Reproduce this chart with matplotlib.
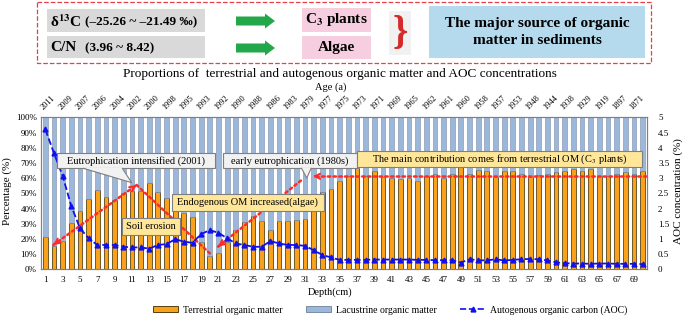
import numpy as np
import matplotlib
matplotlib.use("Agg")
import matplotlib.pyplot as plt
from matplotlib.patches import Rectangle, Polygon, FancyArrow, Patch
from matplotlib.lines import Line2D

plt.rcParams['font.family'] = ['Liberation Serif', 'DejaVu Serif']
plt.rcParams['mathtext.fontset'] = 'stix'

# depth (cm) 1..70
depth = np.arange(1, 71)

# terrestrial OM proportion (%)
terrestrial = [21.5, 15.3, 18.6, 30.7, 38.4, 46.0, 52.2, 47.8, 45.6, 50.0,
               51.5, 51.7, 56.6, 50.6, 47.0, 41.0, 36.8, 34.6, 18.0, 8.5,
               11.0, 18.0, 26.0, 31.0, 35.0, 32.0, 25.8, 31.8, 31.8, 32.3,
               33.0, 42.0, 51.0, 52.8, 58.3, 61.6, 66.4, 61.6, 64.7, 61.0,
               59.9, 59.7, 60.0, 58.0, 61.6, 62.7, 59.9, 63.0, 67.0, 62.7,
               65.3, 64.7, 61.0, 64.7, 65.0, 62.7, 61.0, 61.8, 62.5, 63.8,
               64.7, 65.8, 65.0, 65.8, 61.6, 61.2, 62.7, 64.0, 62.5, 64.7]
lacustrine = [100 - v for v in terrestrial]

# autogenous organic carbon (%)
aoc = [4.60, 3.82, 3.07, 2.08, 1.35, 1.02, 0.80, 0.80, 0.80, 0.74,
       0.72, 0.72, 0.68, 0.80, 0.83, 0.99, 0.91, 0.87, 1.16, 1.29,
       1.20, 1.02, 0.85, 0.80, 0.74, 0.74, 0.93, 0.85, 0.80, 0.80,
       0.77, 0.63, 0.47, 0.39, 0.31, 0.31, 0.31, 0.31, 0.32, 0.32,
       0.32, 0.32, 0.32, 0.31, 0.31, 0.30, 0.30, 0.30, 0.22, 0.33,
       0.30, 0.29, 0.33, 0.29, 0.31, 0.33, 0.34, 0.33, 0.29, 0.23,
       0.20, 0.19, 0.19, 0.18, 0.19, 0.19, 0.18, 0.18, 0.18, 0.17]

odd_depths = list(range(1, 70, 2))
ages = ['2011', '2009', '2007', '2006', '2004', '2002', '2000', '1998', '1995', '1993',
        '1992', '1990', '1988', '1986', '1983', '1979', '1977', '1975', '1973', '1971',
        '1969', '1965', '1962', '1961', '1960', '1958', '1957', '1953', '1948', '1944',
        '1938', '1929', '1919', '1897', '1871']

ORANGE = '#f9a11b'
BLUE = '#9bb7d9'
RED = '#ff2a2a'
W, H = 685, 318

fig = plt.figure(figsize=(6.85, 3.18), dpi=100)

# ---------- header panel (pixel coordinates) ----------
hdr = fig.add_axes([0, 0, 1, 1])
hdr.set_xlim(0, W)
hdr.set_ylim(H, 0)
hdr.set_axis_off()

def pbox(x0, y0, x1, y1, fc, **kw):
    hdr.add_patch(Rectangle((x0, y0), x1 - x0, y1 - y0, fc=fc, ec='none', **kw))

hdr.add_patch(Rectangle((37, 2), 614, 61, fill=False, ec='#e8404a', ls='--', lw=0.9))
pbox(47, 9, 205, 32, '#d9d9d9')
pbox(47, 36, 205, 58, '#d9d9d9')
hdr.text(50, 21.5, r'δ$^{\mathbf{13}}$C', fontsize=11, weight='bold', va='center')
hdr.text(85, 22, '(–25.26 ~ –21.49 ‰)', fontsize=9.5, weight='bold', va='center')
hdr.text(50, 47.5, 'C/N', fontsize=11, weight='bold', va='center')
hdr.text(85, 48, '(3.96 ~ 8.42)', fontsize=9.5, weight='bold', va='center')
for yy in (21, 48):
    hdr.add_patch(FancyArrow(236, yy, 39, 0, width=9, head_width=15, head_length=10,
                             length_includes_head=True, color='#22a84a', lw=0))
pbox(302, 8, 371, 32, '#f7cde0')
pbox(302, 36, 371, 59, '#f7cde0')
hdr.text(336.5, 20, r'C$_\mathbf{3}$ plants', fontsize=11, weight='bold', ha='center', va='center')
hdr.text(336.5, 47.5, 'Algae', fontsize=11, weight='bold', ha='center', va='center')
pbox(389, 11, 411, 55, '#f1f1f1')
hdr.text(400, 33, '}', fontsize=28, weight='bold', color='#d42a2a', ha='center', va='center')
pbox(429, 6, 645, 58, '#b5daee')
hdr.text(537, 32, 'The major source of organic\nmatter in sediments', fontsize=11,
         weight='bold', ha='center', va='center', linespacing=1.3)

fig.text(340 / W, 1 - 73.5 / H,
         'Proportions of  terrestrial and autogenous organic matter and AOC concentrations',
         ha='center', va='center', fontsize=9.5)

# ---------- main chart ----------
ax = fig.add_axes([41 / W, 1 - 269.3 / H, 606 / W, 152 / H])
ax.bar(depth, terrestrial, width=0.55, color=ORANGE, edgecolor='#3a2a00', linewidth=0.5, zorder=2)
ax.bar(depth, lacustrine, bottom=terrestrial, width=0.55, color=BLUE,
       edgecolor='#7d8ea8', linewidth=0.4, zorder=2)
ax.set_xlim(0.5, 70.5)
ax.set_ylim(0, 100)
ax.set_yticks(range(0, 101, 10))
ax.set_yticklabels(['%d%%' % v for v in range(0, 101, 10)])
ax.set_xticks(odd_depths)
ax.tick_params(axis='x', length=0, pad=5, labelsize=6.5)
ax.tick_params(axis='y', length=0, pad=3, labelsize=6.5)
for s in ax.spines.values():
    s.set_color('#808080')
    s.set_linewidth(0.8)

ax2 = ax.twinx()
ax2.plot(depth, aoc, color='#1010ee', ls='--', lw=1.3, marker='^', markersize=3.5, zorder=5)
ax2.set_ylim(0, 5)
ax2.set_yticks(np.arange(0, 5.01, 0.5))
ax2.set_yticklabels(['%g' % v for v in np.arange(0, 5.01, 0.5)])
ax2.tick_params(axis='y', length=0, pad=8, labelsize=6.5)
for s in ax2.spines.values():
    s.set_color('#808080')
    s.set_linewidth(0.8)

ax3 = ax.twiny()
ax3.set_xlim(ax.get_xlim())
ax3.set_xticks(odd_depths)
ax3.set_xticklabels(ages, rotation=45, ha='left', va='bottom', rotation_mode='anchor', fontsize=6)
ax3.tick_params(axis='x', length=0, pad=4)
for s in ax3.spines.values():
    s.set_visible(False)

# red dotted trend arrows (data coords of ax)
def dotted(p, q):
    ax.plot([p[0], q[0]], [p[1], q[1]], color=RED, lw=1.8, ls=(0, (1, 1.3)),
            dash_capstyle='round', zorder=4)

def head(tip, frm):
    d = np.array(frm) - np.array(tip)
    back = np.array(tip) + d * 0.07 / np.hypot(d[0] / 70, d[1] / 100) / 10
    ax.annotate('', xy=tip, xytext=tuple(back),
                arrowprops=dict(arrowstyle='->', color=RED, lw=1.5, shrinkA=0, shrinkB=0,
                                mutation_scale=9), zorder=4)

pA, pB = (1.92, 16.0), (11.54, 55.5)
pC = (20.0, 10.5)
pD, pE = (20.95, 14.9), (30.6, 58.7)
pF, pG = (70.4, 61.2), (31.9, 61.2)
dotted(pA, pB); head(pA, pB); head(pB, pA)
dotted(pB, pC)
dotted(pD, pE); head(pD, pE)
dotted(pF, pG); head(pG, pF)

# annotation boxes, drawn on top of everything
tr = ax.transData

def callout(x0, x1, y0, y1, text, fc, pointer=None):
    ax2.add_patch(Rectangle((x0, y0), x1 - x0, y1 - y0, transform=tr, fc=fc,
                            ec='#7f7f7f', lw=0.8, zorder=10))
    if pointer:
        a, b, tip = pointer
        ax2.add_patch(Polygon([(a, y0 + 0.3), (b, y0 + 0.3), tip], transform=tr, fc=fc,
                              ec='none', zorder=11))
        ax2.add_line(Line2D([a, tip[0], b], [y0, tip[1], y0], transform=tr,
                            color='#7f7f7f', lw=0.8, zorder=11))
    ax2.text((x0 + x1) / 2, (y0 + y1) / 2, text, transform=tr, ha='center', va='center',
             fontsize=7.5, zorder=12)

GRAYBOX = '#f2f2f2'
YELLOW = '#ffe699'
callout(2.35, 20.57, 66.4, 76.7, 'Eutrophication intensified (2001)', GRAYBOX,
        pointer=(5.4, 9.9, (10.97, 57.0)))
callout(21.5, 36.95, 66.4, 76.3, 'early eutrophication (1980s)', GRAYBOX,
        pointer=(30.6, 31.7, (31.2, 60.0)))
callout(37.05, 69.9, 67.3, 77.8, r'The main contribution comes from terrestrial OM (C$_3$ plants)', YELLOW)
callout(15.6, 33.2, 38.4, 49.5, 'Endogenous OM increased(algae)', YELLOW)
callout(9.86, 16.5, 22.6, 33.75, 'Soil erosion', YELLOW)

# axis titles
fig.text(331 / W, 1 - 87.5 / H, 'Age (a)', ha='center', va='center', fontsize=7.5)
fig.text(330 / W, 1 - 292.5 / H, 'Depth(cm)', ha='center', va='center', fontsize=7.5)
fig.text(7 / W, 1 - 191 / H, 'Percentage (%)', rotation=90, ha='center', va='center', fontsize=8)
fig.text(678 / W, 1 - 191 / H, 'AOC concentration (%)', rotation=90, ha='center', va='center', fontsize=8)

handles = [Patch(fc=ORANGE, ec='#3a2a00', lw=0.6),
           Patch(fc=BLUE, ec='#6f7f99', lw=0.6),
           Line2D([], [], color='#1010ee', ls='--', lw=1.2, marker='^', markersize=3.5)]
labels = ['Terrestrial organic matter', 'Lacustrine organic matter', 'Autogenous organic carbon (AOC)']
fig.legend(handles, labels, loc='center', bbox_to_anchor=(390 / W, 1 - 310 / H), ncol=3,
           frameon=False, fontsize=7, handlelength=2.6, handleheight=0.55,
           columnspacing=2.4, handletextpad=0.5)

fig.savefig('out.png', dpi=100)
